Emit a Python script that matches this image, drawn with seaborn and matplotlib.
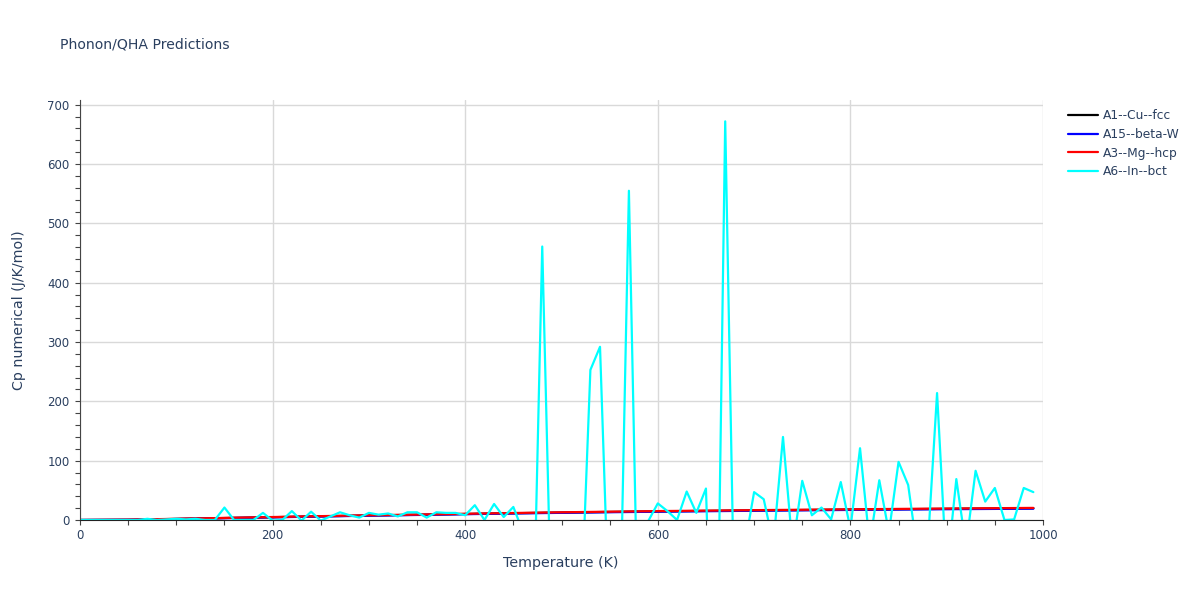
import numpy as np
import pandas as pd
import matplotlib
matplotlib.use('Agg')
import matplotlib.pyplot as plt
import seaborn as sns
from matplotlib.ticker import MultipleLocator

# smooth series, read every 50 K
temps_smooth = [0, 50, 100, 150, 200, 250, 300, 350, 400, 450, 500,
                550, 600, 650, 700, 750, 800, 850, 900, 950, 990]
cp_cu = [0, 0.4, 1.8, 3.3, 4.7, 6.2, 7.6, 8.8, 10.1, 11.4, 12.5,
         13.6, 14.5, 15.3, 16.1, 16.8, 17.5, 18.2, 18.8, 19.4, 19.8]
cp_w = [0, 0.3, 1.6, 3.1, 4.5, 5.9, 7.3, 8.5, 9.8, 11.0, 12.1,
        13.1, 14.0, 14.8, 15.6, 16.3, 17.0, 17.6, 18.2, 18.7, 19.1]
cp_mg = [0, 0.5, 2.0, 3.5, 5.0, 6.5, 8.0, 9.1, 10.5, 11.8, 13.0,
         14.0, 15.0, 15.8, 16.6, 17.3, 18.0, 18.7, 19.3, 19.9, 20.4]

# noisy In series, read every 10 K (negative parts fall below the axis)
temps_in = list(range(0, 1000, 10))
cp_in = [0, 0, 0, 0, 0, 0, 0, 2, 0, 1,
         2, 1, 2, 0, 0, 21, 0, 0, 0, 12,
         -1, 0, 15, -1, 14, -1, 6, 13, 8, 4,
         12, 9, 11, 6, 13, 13, 4, 13, 12, 12,
         8, 25, 0, 27, 5, 22, -20, -250, 461, -200,
         -150, -150, -170, 253, 292, -195, -238, 555, -238, -2,
         28, 15, 0, 48, 12, 53, -450, 672, -200, -46,
         47, 35, -40, 140, -47, 66, 8, 21, 1, 64,
         -15, 121, -40, 67, -21, 98, 59, -59, -53, 214,
         -90, 69, -45, 83, 31, 54, 0, 1, 54, 47]

names = ['A1--Cu--fcc', 'A15--beta-W', 'A3--Mg--hcp', 'A6--In--bct']
colors = ['black', 'blue', 'red', 'cyan']

frames = []
for name, t, v in zip(names, [temps_smooth] * 3 + [temps_in], [cp_cu, cp_w, cp_mg, cp_in]):
    frames.append(pd.DataFrame({'T': t, 'Cp': v, 'structure': name}))
df = pd.concat(frames, ignore_index=True)

sns.set_style('white')
plt.rcParams['font.family'] = ['DejaVu Sans']
text_col = '#2a3f5f'

fig = plt.figure(figsize=(12, 6), dpi=100)
ax = fig.add_axes([80 / 1200, 80 / 600, 963 / 1200, 420 / 600])

sns.lineplot(data=df, x='T', y='Cp', hue='structure', hue_order=names,
             palette=dict(zip(names, colors)), estimator=None, sort=False,
             linewidth=1.6, ax=ax)

ax.set_xlim(0, 1000)
ax.set_ylim(0, 708)
ax.xaxis.set_major_locator(MultipleLocator(200))
ax.xaxis.set_minor_locator(MultipleLocator(50))
ax.yaxis.set_major_locator(MultipleLocator(100))
ax.yaxis.set_minor_locator(MultipleLocator(20))
ax.grid(True, which='major', color='#d9d9d9', linewidth=1)
ax.set_axisbelow(True)
for side in ['top', 'right']:
    ax.spines[side].set_visible(False)
ax.spines['bottom'].set_color('#222222')
ax.spines['left'].set_color('#444444')
ax.tick_params(which='both', direction='out', length=3.5, width=0.8,
               colors='#444444', labelcolor=text_col, labelsize=8.5,
               bottom=True, left=True)
ax.tick_params(axis='y', which='both', pad=4)
ax.tick_params(axis='x', which='both', pad=3)
ax.set_xlabel('')
ax.set_ylabel('')

fig.text(561 / 1200, 1 - 563 / 600, 'Temperature (K)', ha='center', va='center',
         fontsize=10.3, color=text_col)
fig.text(19 / 1200, 1 - 310 / 600, 'Cp numerical (J/K/mol)', ha='center', va='center',
         rotation=90, fontsize=10.3, color=text_col)
fig.text(60 / 1200, 1 - 45 / 600, 'Phonon/QHA Predictions', ha='left', va='center',
         fontsize=10.1, color=text_col)

handles, labels = ax.get_legend_handles_labels()
ax.legend(handles, labels, loc='upper left', bbox_to_anchor=(1.026, 0.978),
          frameon=False, borderaxespad=0, borderpad=0, handlelength=2.45,
          handletextpad=0.42, labelspacing=0.47, fontsize=8.8, labelcolor=text_col)

fig.savefig('out.png', dpi=100)
